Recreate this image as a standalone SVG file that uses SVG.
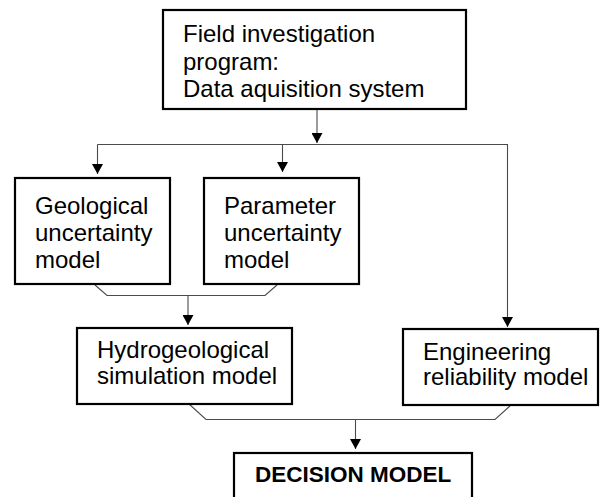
<svg xmlns="http://www.w3.org/2000/svg" width="604" height="497" viewBox="0 0 604 497">
  <style>
    .box { fill: #ffffff; stroke: #000000; stroke-width: 2.2; }
    .lbl { font-family: "Liberation Sans", Arial, sans-serif; font-size: 24px; fill: #000000; }
    .bold { font-weight: bold; font-size: 22.5px; }
    .wire { fill: none; stroke: #4a4a4a; stroke-width: 1.1; }
  </style>
  <defs>
    <marker id="arrow" markerUnits="userSpaceOnUse" markerWidth="11" markerHeight="11" refX="10" refY="5.5" orient="auto">
      <path d="M0,0 L10,5.5 L0,11 Z" fill="#000000"/>
    </marker>
  </defs>
  <rect width="604" height="497" fill="#ffffff"/>

  <g id="connectors">
    <path class="wire" d="M317,110 V143" marker-end="url(#arrow)"/>
    <path class="wire" d="M97.5,144.5 H507.5 V327" marker-end="url(#arrow)"/>
    <path class="wire" d="M97.5,144.5 V174" marker-end="url(#arrow)"/>
    <path class="wire" d="M282.5,144.5 V172" marker-end="url(#arrow)"/>
    <path class="wire" d="M95,285 L107,295.5 H265 L277,285"/>
    <path class="wire" d="M188,295.5 V325" marker-end="url(#arrow)"/>
    <path class="wire" d="M189,404 L206,419.5 H495 L510,406"/>
    <path class="wire" d="M355.5,419.5 V449" marker-end="url(#arrow)"/>
  </g>

  <g id="field-investigation">
    <rect class="box" x="163" y="10" width="303" height="99"/>
    <text class="lbl" x="183" y="42">Field investigation</text>
    <text class="lbl" x="183" y="70">program:</text>
    <text class="lbl" x="183" y="97">Data aquisition system</text>
  </g>

  <g id="geological-uncertainty">
    <rect class="box" x="15" y="178" width="155" height="106"/>
    <text class="lbl" x="35" y="214">Geological</text>
    <text class="lbl" x="35" y="241">uncertainty</text>
    <text class="lbl" x="35" y="268">model</text>
  </g>

  <g id="parameter-uncertainty">
    <rect class="box" x="204" y="178" width="155" height="106"/>
    <text class="lbl" x="224" y="214">Parameter</text>
    <text class="lbl" x="224" y="241">uncertainty</text>
    <text class="lbl" x="224" y="268">model</text>
  </g>

  <g id="hydrogeological-simulation">
    <rect class="box" x="77" y="328" width="215" height="76"/>
    <text class="lbl" x="97" y="358">Hydrogeological</text>
    <text class="lbl" x="97" y="384">simulation model</text>
  </g>

  <g id="engineering-reliability">
    <rect class="box" x="403" y="329" width="195" height="76"/>
    <text class="lbl" x="423" y="360">Engineering</text>
    <text class="lbl" x="423" y="385">reliability model</text>
  </g>

  <g id="decision-model">
    <rect class="box" x="234" y="453" width="238" height="60"/>
    <text class="lbl bold" x="255" y="482">DECISION MODEL</text>
  </g>
</svg>
